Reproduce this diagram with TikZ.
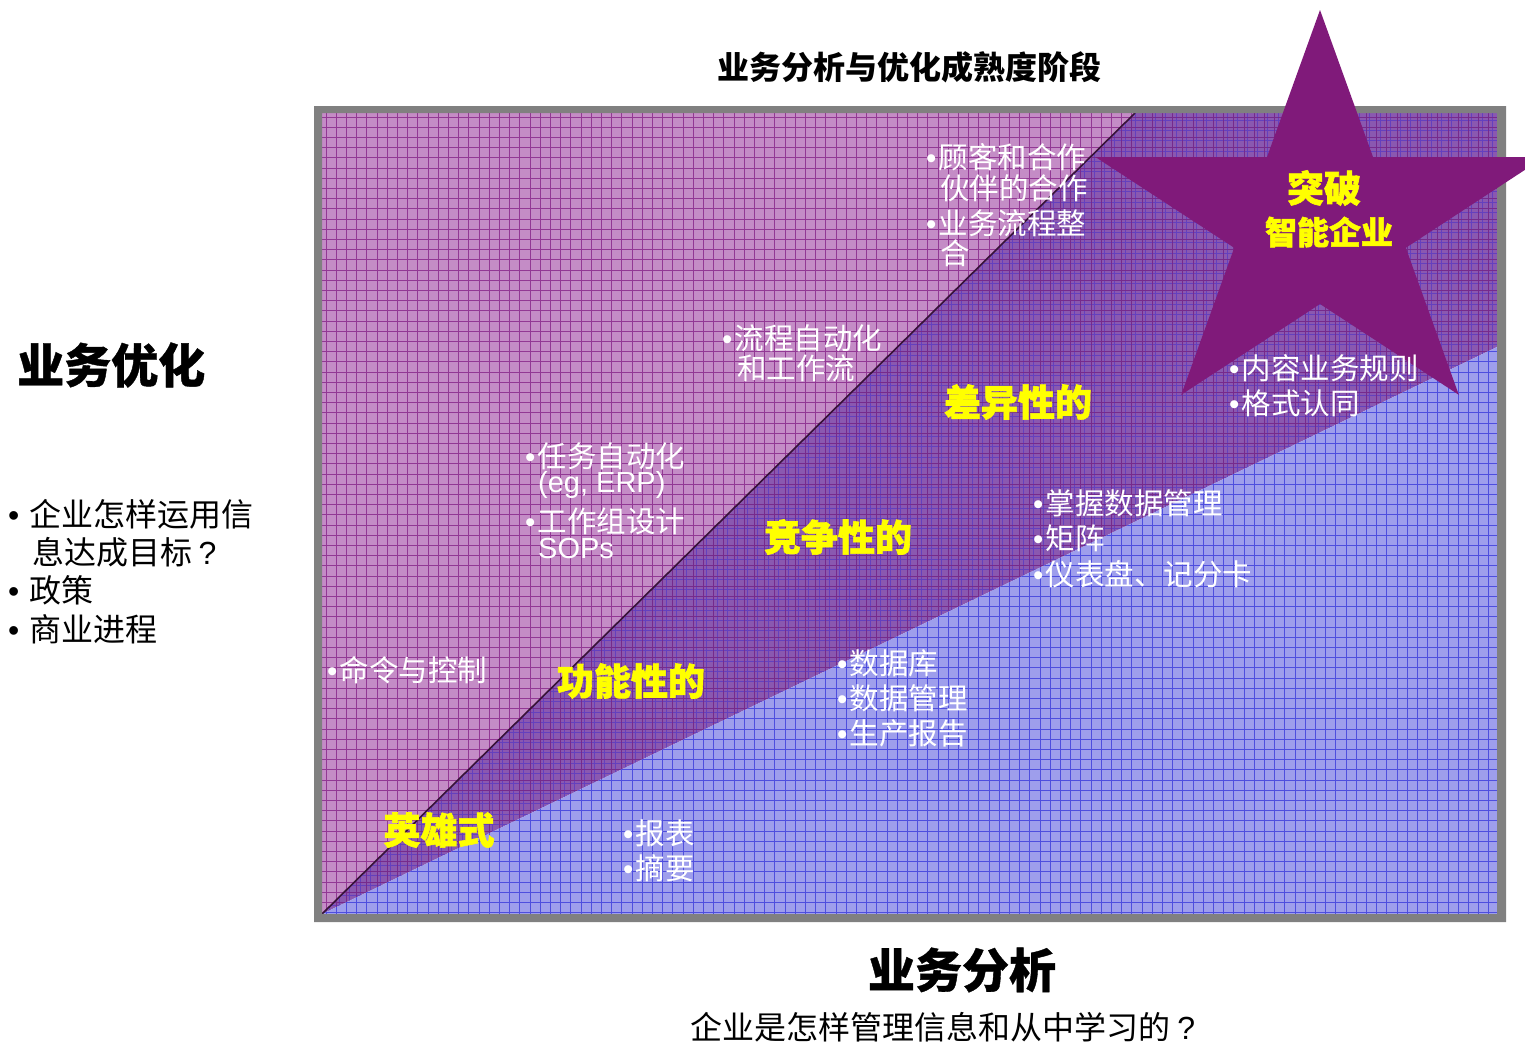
\documentclass[tikz,border=0pt]{standalone}
\usepackage{fontspec}
\setmainfont{Liberation Sans}
\newfontfamily\latinfont{Liberation Sans}
\newfontfamily\cjk{Noto Sans CJK SC}
\newfontfamily\cjkheavy{Noto Sans CJK SC}[BoldFeatures={FakeBold=1.6}]
\newfontfamily\cjkmid{Noto Sans CJK SC}[BoldFeatures={FakeBold=0.8}]
\newcommand\bul{{\latinfont •}\hspace{2pt}}
\newcommand\qm{\hspace{0.2em}{\latinfont ?}}
\definecolor{pinkfill}{RGB}{196,140,198}
\definecolor{pinkline}{RGB}{146,56,148}
\definecolor{midfill}{RGB}{138,88,176}
\definecolor{midline}{RGB}{118,42,140}
\definecolor{midline2}{RGB}{100,64,190}
\definecolor{bluefill}{RGB}{158,158,236}
\definecolor{blueline}{RGB}{78,78,222}
\definecolor{starcol}{RGB}{128,26,122}
\definecolor{framegray}{RGB}{128,128,128}
\definecolor{labelyellow}{RGB}{255,255,0}
\newcommand\mygrid[3]{%
  \foreach \i in {0,...,116} {\draw[#1,line width=0.9pt] ({#2+\i*10.2},113) -- ({#2+\i*10.2},914);}
  \foreach \j in {0,...,79} {\draw[#1,line width=0.9pt] (322,{#3+\j*10.2}) -- (1497,{#3+\j*10.2});}
}
\begin{document}
\begin{tikzpicture}[x=1pt,y=-1pt,
  wt/.style={text=white,font=\cjk\fontsize{29.5}{33}\selectfont,anchor=west,inner sep=0pt},
  yl/.style={text=labelyellow,font=\cjkheavy\bfseries\fontsize{37}{40}\selectfont,inner sep=0pt},
  bk/.style={text=black,font=\cjk\fontsize{32}{35}\selectfont,inner sep=0pt},
  bkbig/.style={text=black,font=\cjkmid\bfseries\fontsize{47}{50}\selectfont,inner sep=0pt}]
\useasboundingbox (0,0) rectangle (1525,1044);
\fill[white] (0,0) rectangle (1525,1044);
% pink region
\begin{scope}
\clip (322,113) -- (1135,113) -- (322,914) -- cycle;
\fill[pinkfill] (322,113) rectangle (1497,914);
\mygrid{pinkline}{326}{117}
\end{scope}
% middle region
\begin{scope}
\clip (1135,113) -- (1497,113) -- (1497,347) -- (322,914) -- cycle;
\fill[midfill] (322,113) rectangle (1497,914);
\mygrid{midline2}{329.5}{120.5}
\mygrid{midline}{326}{117}
\end{scope}
% blue region
\begin{scope}
\clip (322,914) -- (1497,347) -- (1497,914) -- cycle;
\fill[bluefill] (322,113) rectangle (1497,914);
\mygrid{blueline}{326}{117}
\end{scope}
% diagonal
\draw[line width=1.6pt,color={rgb,255:red,55;green,18;blue,55}] (322,914) -- (1135,113);
% frame
\fill[framegray,even odd rule] (314,106) rectangle (1506,922) (322,113) rectangle (1497,914);
% star
\fill[starcol] (1320,10) -- (1267,157) -- (1095.4,157) -- (1234.2,247.8) -- (1181.2,394.8)
  -- (1320,304) -- (1458.8,394.8) -- (1405.8,247.8) -- (1544.6,157) -- (1373,157) -- cycle;
% titles
\node[bk,font=\cjk\bfseries\fontsize{32}{35}\selectfont] (title) at (909,67) {业务分析与优化成熟度阶段};
\node[bkbig,anchor=west] (opt) at (17,365) {业务优化};
\node[bkbig] (ana) at (962,970) {业务分析};
\node[bk] (anaq) at (943,1027) {企业是怎样管理信息和从中学习的\qm};
\node[bk,anchor=west] (lq1) at (8,514) {{\latinfont •}\hspace{10pt}企业怎样运用信};
\node[bk,anchor=west] (lq2) at (32,552) {息达成目标\qm};
\node[bk,anchor=west] (lq3) at (8,590) {{\latinfont •}\hspace{10pt}政策};
\node[bk,anchor=west] (lq4) at (8,629) {{\latinfont •}\hspace{10pt}商业进程};
% yellow labels
\node[yl] (hero) at (439,830) {英雄式};
\node[yl] (func) at (631,681) {功能性的};
\node[yl] (comp) at (838,537) {竞争性的};
\node[yl] (diff) at (1018,402) {差异性的};
\node[yl] (brk) at (1324,188) {突破};
\node[yl,font=\cjkheavy\bfseries\fontsize{32}{35}\selectfont] (ient) at (1329,232) {智能企业};
% white bullets
\node[wt] (a1) at (926,157) {\bul 顾客和合作};
\node[wt] (a2) at (940,188) {伙伴的合作};
\node[wt] (a3) at (926,223) {\bul 业务流程整};
\node[wt] (a4) at (940,253) {合};
\node[wt] (b1) at (722,338) {\bul 流程自动化};
\node[wt] (b2) at (737,368) {和工作流};
\node[wt] (c1) at (525,456) {\bul 任务自动化};
\node[wt,font=\latinfont\fontsize{29}{33}\selectfont] (c2) at (538,485) {(eg, ERP)};
\node[wt] (c3) at (525,521) {\bul 工作组设计};
\node[wt,font=\latinfont\fontsize{29}{33}\selectfont] (c4) at (538,549) {SOPs};
\node[wt] (d1) at (327,670) {\bul 命令与控制};
\node[wt] (e1) at (1229,368) {\bul 内容业务规则};
\node[wt] (e2) at (1229,403) {\bul 格式认同};
\node[wt] (f1) at (1033,503) {\bul 掌握数据管理};
\node[wt] (f2) at (1033,538) {\bul 矩阵};
\node[wt] (f3) at (1033,574) {\bul 仪表盘、记分卡};
\node[wt] (g1) at (837,663) {\bul 数据库};
\node[wt] (g2) at (837,698) {\bul 数据管理};
\node[wt] (g3) at (837,733) {\bul 生产报告};
\node[wt] (h1) at (623,833) {\bul 报表};
\node[wt] (h2) at (623,868) {\bul 摘要};
\end{tikzpicture}
\end{document}
